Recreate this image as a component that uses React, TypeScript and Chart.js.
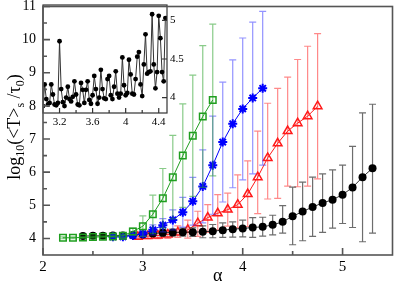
import React, { useEffect, useRef } from 'react';
import { Chart, registerables } from 'chart.js';

Chart.register(...registerables);

// ---------------- main chart data ----------------
const blackAlpha = [2.4, 2.5, 2.6, 2.7, 2.8, 2.9, 3.0, 3.1, 3.2, 3.3, 3.4, 3.5, 3.6, 3.7, 3.8, 3.9, 4.0, 4.1, 4.2, 4.3, 4.4, 4.5, 4.6, 4.7, 4.8, 4.9, 5.0, 5.1, 5.2, 5.3];
const blackLogT = [4.07, 4.08, 4.08, 4.09, 4.09, 4.10, 4.12, 4.15, 4.17, 4.18, 4.19, 4.19, 4.20, 4.22, 4.25, 4.28, 4.30, 4.33, 4.35, 4.41, 4.50, 4.67, 4.81, 4.95, 5.07, 5.17, 5.32, 5.54, 5.85, 6.12];
const blackErrUp = [0.05, 0.05, 0.05, 0.05, 0.05, 0.06, 0.07, 0.08, 0.1, 0.1, 0.12, 0.13, 0.18, 0.2, 0.22, 0.22, 0.25, 0.3, 0.29, 0.29, 0.49, 0.88, 0.89, 0.9, 0.88, 0.9, 0.89, 1.24, 1.94, 1.93];
const blackErrDown = [0.05, 0.05, 0.05, 0.05, 0.05, 0.06, 0.07, 0.08, 0.1, 0.1, 0.12, 0.13, 0.18, 0.2, 0.22, 0.24, 0.25, 0.3, 0.28, 0.3, 0.34, 0.86, 0.88, 0.89, 0.89, 0.86, 0.87, 1.21, 1.95, 1.96];

const greenAlpha = [2.2, 2.3, 2.4, 2.5, 2.6, 2.7, 2.8, 2.9, 3.0, 3.1, 3.2, 3.3, 3.4, 3.5, 3.6, 3.7];
const greenLogT = [4.02, 4.02, 4.03, 4.04, 4.05, 4.06, 4.08, 4.21, 4.37, 4.73, 5.21, 5.85, 6.50, 7.10, 7.68, 8.18];
const greenErr = [0.03, 0.03, 0.03, 0.03, 0.03, 0.04, 0.05, 0.1, 0.31, 0.58, 0.9, 1.26, 1.56, 1.83, 2.14, 2.29];

const blueAlpha = [2.7, 2.8, 2.9, 3.0, 3.1, 3.2, 3.3, 3.4, 3.5, 3.6, 3.7, 3.8, 3.9, 4.0, 4.1, 4.2];
const blueLogT = [4.05, 4.05, 4.09, 4.14, 4.26, 4.40, 4.56, 4.79, 5.12, 5.57, 6.21, 6.91, 7.46, 7.91, 8.24, 8.53];
const blueErr = [0.04, 0.05, 0.07, 0.1, 0.15, 0.2, 0.3, 0.45, 0.72, 1.1, 1.48, 1.81, 1.93, 2.14, 2.29, 2.32];

const redAlpha = [2.95, 3.05, 3.15, 3.25, 3.35, 3.45, 3.55, 3.65, 3.75, 3.85, 3.95, 4.05, 4.15, 4.25, 4.35, 4.45, 4.55, 4.65, 4.75];
const redLogT = [4.05, 4.07, 4.09, 4.12, 4.18, 4.26, 4.46, 4.63, 4.76, 4.87, 5.02, 5.34, 5.85, 6.43, 6.87, 7.24, 7.48, 7.69, 7.99];
const redErrUp = [0.05, 0.08, 0.1, 0.12, 0.2, 0.29, 0.36, 0.39, 0.56, 0.5, 0.9, 1.0, 1.39, 1.65, 1.66, 1.63, 1.92, 2.11, 2.19];
const redErrDown = [0.05, 0.08, 0.1, 0.12, 0.15, 0.25, 0.4, 0.45, 0.5, 0.5, 0.7, 0.98, 1.1, 1.24, 1.66, 1.66, 1.92, 2.11, 2.19];

const xTickValues = [2, 3, 4, 5];
const xMinorTickValues = [2.5, 3.5, 4.5];
const yTickValues = [4, 5, 6, 7, 8, 9, 10, 11];
const yMinorTickValues = [4.5, 5.5, 6.5, 7.5, 8.5, 9.5, 10.5];

// ---------------- inset data ----------------
const insetAlpha = [3.00, 3.02, 3.04, 3.06, 3.08, 3.10, 3.12, 3.14, 3.16, 3.18, 3.20, 3.22, 3.24, 3.26, 3.28, 3.30, 3.32, 3.34, 3.36, 3.38, 3.40, 3.42, 3.44, 3.46, 3.48, 3.50, 3.52, 3.54, 3.56, 3.58, 3.60, 3.62, 3.64, 3.66, 3.68, 3.70, 3.72, 3.74, 3.76, 3.78, 3.80, 3.82, 3.84, 3.86, 3.88, 3.90, 3.92, 3.94, 3.96, 3.98, 4.00, 4.02, 4.04, 4.06, 4.08, 4.10, 4.12, 4.14, 4.16, 4.18, 4.20, 4.22, 4.24, 4.26, 4.28, 4.30, 4.32, 4.34, 4.36, 4.38, 4.40, 4.42, 4.44, 4.46, 4.48, 4.50];
const insetLogT = [3.89, 4.17, 3.98, 3.91, 3.93, 4.17, 4.04, 3.91, 3.90, 3.93, 4.73, 4.11, 3.94, 3.89, 4.00, 4.14, 3.98, 3.95, 4.01, 4.21, 4.04, 3.91, 3.90, 4.19, 4.10, 3.93, 4.10, 4.21, 3.97, 3.92, 4.03, 4.28, 4.11, 3.92, 4.00, 4.36, 4.11, 3.99, 3.98, 4.24, 4.28, 4.03, 3.98, 4.14, 4.34, 4.05, 4.00, 4.05, 4.52, 4.16, 4.03, 4.06, 4.49, 4.30, 4.05, 4.04, 4.24, 4.53, 4.59, 4.17, 4.02, 4.43, 4.82, 4.31, 4.33, 4.34, 5.08, 4.43, 4.12, 4.33, 5.06, 4.77, 4.33, 4.21, 5.03, 5.03];
const insetXTickValues = [3.2, 3.6, 4, 4.4];
const insetXMinorTickValues = [3.4, 3.8, 4.2];
const insetYTickValues = [4, 4.5, 5];

const SERIF = '"Liberation Serif", "DejaVu Serif", serif';

function points(xs: number[], ys: number[], up: number[], down: number[]) {
  return xs.map((x, i) => ({ x, y: ys[i], yHi: ys[i] + up[i], yLo: ys[i] - down[i] }));
}

const errorBarPlugin = {
  id: 'errorBars',
  beforeDatasetDraw(chart: any, args: any) {
    const ds = chart.data.datasets[args.index];
    if (!ds.errorColor) return;
    const yScale = chart.scales.y;
    const ctx = chart.ctx;
    ctx.save();
    ctx.strokeStyle = ds.errorColor;
    ctx.lineWidth = 1.2;
    ctx.beginPath();
    args.meta.data.forEach((el: any, i: number) => {
      const d = ds.data[i];
      const x = el.x;
      const hi = yScale.getPixelForValue(d.yHi);
      const lo = yScale.getPixelForValue(d.yLo);
      ctx.moveTo(x, hi); ctx.lineTo(x, lo);
      ctx.moveTo(x - 3.5, hi); ctx.lineTo(x + 3.5, hi);
      ctx.moveTo(x - 3.5, lo); ctx.lineTo(x + 3.5, lo);
    });
    ctx.stroke();
    ctx.restore();
  },
};

type Marks = { axis: string; side: string; values: number[]; len: number }[];

function makeFrame(color: string, width: number, marks: Marks) {
  return {
    id: 'frame',
    afterDraw(chart: any) {
      const { ctx, chartArea: a, scales } = chart;
      ctx.save();
      ctx.strokeStyle = color;
      ctx.lineWidth = width;
      ctx.strokeRect(a.left, a.top, a.right - a.left, a.bottom - a.top);
      ctx.beginPath();
      for (const m of marks) {
        const sc = scales[m.axis];
        for (const v of m.values) {
          const p = sc.getPixelForValue(v);
          if (m.side === 'bottom') { ctx.moveTo(p, a.bottom); ctx.lineTo(p, a.bottom - m.len); }
          else if (m.side === 'left') { ctx.moveTo(a.left, p); ctx.lineTo(a.left + m.len, p); }
          else if (m.side === 'right') { ctx.moveTo(a.right, p); ctx.lineTo(a.right - m.len, p); }
        }
      }
      ctx.stroke();
      ctx.restore();
    },
  };
}

const titlesPlugin = {
  id: 'titles',
  afterDraw(chart: any) {
    const ctx = chart.ctx;
    const a = chart.chartArea;
    ctx.save();
    ctx.fillStyle = '#000';
    // x title
    ctx.font = `18px ${SERIF}`;
    ctx.textAlign = 'center';
    ctx.textBaseline = 'middle';
    ctx.fillText('α', (a.left + a.right) / 2, 276);
    // y title with subscripts
    const parts = [
      { t: 'log', sub: false },
      { t: '10', sub: true },
      { t: '(<T>', sub: false },
      { t: 's', sub: true },
      { t: ' /τ', sub: false },
      { t: '0', sub: true },
      { t: ')', sub: false },
    ];
    const mainFont = `18px ${SERIF}`;
    const subFont = `12px ${SERIF}`;
    let total = 0;
    const widths = parts.map((p) => {
      ctx.font = p.sub ? subFont : mainFont;
      const w = ctx.measureText(p.t).width;
      total += w;
      return w;
    });
    ctx.translate(15, 127);
    ctx.rotate(-Math.PI / 2);
    ctx.textAlign = 'left';
    ctx.textBaseline = 'alphabetic';
    let x = -total / 2;
    parts.forEach((p, i) => {
      ctx.font = p.sub ? subFont : mainFont;
      ctx.fillText(p.t, x, p.sub ? 9 : 5);
      x += widths[i];
    });
    ctx.restore();
  },
};

function ticksFrom(values: number[]) {
  return (s: any) => {
    s.ticks = values.map((v) => ({ value: v }));
  };
}

export default function App() {
  const mainRef = useRef<HTMLCanvasElement>(null);
  const insetRef = useRef<HTMLCanvasElement>(null);

  useEffect(() => {
    const green = '#1f9e1f';
    const blue = '#0000ff';
    const red = '#ff1a1a';

    const main = new Chart(mainRef.current as HTMLCanvasElement, {
      type: 'scatter',
      data: {
        datasets: [
          {
            data: points(greenAlpha, greenLogT, greenErr, greenErr),
            showLine: true,
            borderColor: green,
            borderWidth: 1,
            pointStyle: 'rect',
            pointRadius: 4.6,
            pointBorderWidth: 1.5,
            pointBorderColor: green,
            pointBackgroundColor: 'rgba(0,0,0,0)',
            errorColor: 'rgba(40,160,40,0.55)',
            order: 1,
          } as any,
          {
            data: points(blueAlpha, blueLogT, blueErr, blueErr),
            showLine: true,
            borderColor: blue,
            borderWidth: 1,
            pointStyle: 'star',
            pointRadius: 4.5,
            pointBorderWidth: 2,
            pointBorderColor: blue,
            pointBackgroundColor: blue,
            errorColor: 'rgba(40,40,255,0.5)',
            order: 2,
          } as any,
          {
            data: points(blackAlpha, blackLogT, blackErrUp, blackErrDown),
            showLine: true,
            borderColor: '#333',
            borderWidth: 1,
            pointStyle: 'circle',
            pointRadius: 4,
            pointBorderWidth: 0,
            pointBackgroundColor: '#000',
            errorColor: 'rgba(60,60,60,0.75)',
            order: 3,
          } as any,
          {
            data: points(redAlpha, redLogT, redErrUp, redErrDown),
            showLine: true,
            borderColor: red,
            borderWidth: 1,
            pointStyle: 'triangle',
            pointRadius: 5,
            pointBorderWidth: 1.5,
            pointBorderColor: red,
            pointBackgroundColor: 'rgba(0,0,0,0)',
            errorColor: 'rgba(255,40,40,0.55)',
            order: 4,
          } as any,
        ],
      },
      options: {
        responsive: false,
        devicePixelRatio: 1,
        animation: false,
        events: [],
        layout: { padding: { top: 5, right: 2, left: 0, bottom: 0 } },
        plugins: { legend: { display: false }, tooltip: { enabled: false } },
        scales: {
          x: {
            type: 'linear',
            min: 2,
            max: 5.5,
            afterBuildTicks: ticksFrom(xTickValues),
            afterFit: (s: any) => { s.height = 29; s.paddingLeft = 0; s.paddingRight = 0; },
            grid: { display: false, drawTicks: false },
            border: { display: false },
            ticks: { color: '#000', font: { family: SERIF, size: 15 }, padding: 3, maxRotation: 0, autoSkip: false, callback: (v: any) => String(v) },
          },
          y: {
            type: 'linear',
            min: 3.5,
            max: 11,
            afterBuildTicks: ticksFrom(yTickValues),
            afterFit: (s: any) => { s.width = 43; s.paddingTop = 0; s.paddingBottom = 0; },
            grid: { display: false, drawTicks: false },
            border: { display: false },
            ticks: { color: '#000', font: { family: SERIF, size: 14 }, padding: 7, autoSkip: false, callback: (v: any) => String(v) },
          },
        },
      } as any,
      plugins: [
        errorBarPlugin,
        makeFrame('#555', 1.6, [
          { axis: 'x', side: 'bottom', values: xTickValues, len: 7 },
          { axis: 'x', side: 'bottom', values: xMinorTickValues, len: 4 },
          { axis: 'y', side: 'left', values: yTickValues, len: 7 },
          { axis: 'y', side: 'left', values: yMinorTickValues, len: 4 },
        ]),
        titlesPlugin,
      ],
    });

    const inset = new Chart(insetRef.current as HTMLCanvasElement, {
      type: 'scatter',
      data: {
        datasets: [
          {
            data: insetAlpha.map((x, i) => ({ x, y: insetLogT[i] })),
            showLine: true,
            borderColor: '#333',
            borderWidth: 1,
            pointStyle: 'circle',
            pointRadius: 2.4,
            pointBorderWidth: 0,
            pointBackgroundColor: '#000',
          },
        ],
      },
      options: {
        responsive: false,
        devicePixelRatio: 1,
        animation: false,
        events: [],
        layout: { padding: { top: 5, right: 0, left: 43, bottom: 0 } },
        plugins: { legend: { display: false }, tooltip: { enabled: false } },
        scales: {
          x: {
            type: 'linear',
            min: 3.0,
            max: 4.5,
            afterBuildTicks: ticksFrom(insetXTickValues),
            afterFit: (s: any) => { s.height = 22; s.paddingLeft = 0; s.paddingRight = 0; },
            grid: { display: false, drawTicks: false },
            border: { display: false },
            ticks: { color: '#000', font: { family: SERIF, size: 11 }, padding: 3, maxRotation: 0, autoSkip: false, callback: (v: any) => String(v) },
          },
          y: {
            type: 'linear',
            position: 'right',
            min: 3.8,
            max: 5.2,
            afterBuildTicks: ticksFrom(insetYTickValues),
            afterFit: (s: any) => { s.width = 33; s.paddingTop = 0; s.paddingBottom = 0; },
            grid: { display: false, drawTicks: false },
            border: { display: false },
            ticks: { color: '#000', font: { family: SERIF, size: 11 }, padding: 3, autoSkip: false, callback: (v: any) => String(v) },
          },
        },
      } as any,
      plugins: [
        makeFrame('#333', 1.2, [
          { axis: 'x', side: 'bottom', values: insetXTickValues, len: 5 },
          { axis: 'x', side: 'bottom', values: insetXMinorTickValues, len: 3 },
          { axis: 'y', side: 'right', values: insetYTickValues, len: 5 },
        ]),
      ],
    });

    return () => {
      main.destroy();
      inset.destroy();
    };
  }, []);

  return (
    <div style={{ position: 'fixed', left: 0, top: 0, width: 399, height: 284, background: '#fff' }}>
      <canvas ref={insetRef} width={200} height={135} style={{ position: 'absolute', left: 0, top: 0, width: 200, height: 135 }} />
      <canvas ref={mainRef} width={399} height={284} style={{ position: 'absolute', left: 0, top: 0, width: 399, height: 284 }} />
    </div>
  );
}
